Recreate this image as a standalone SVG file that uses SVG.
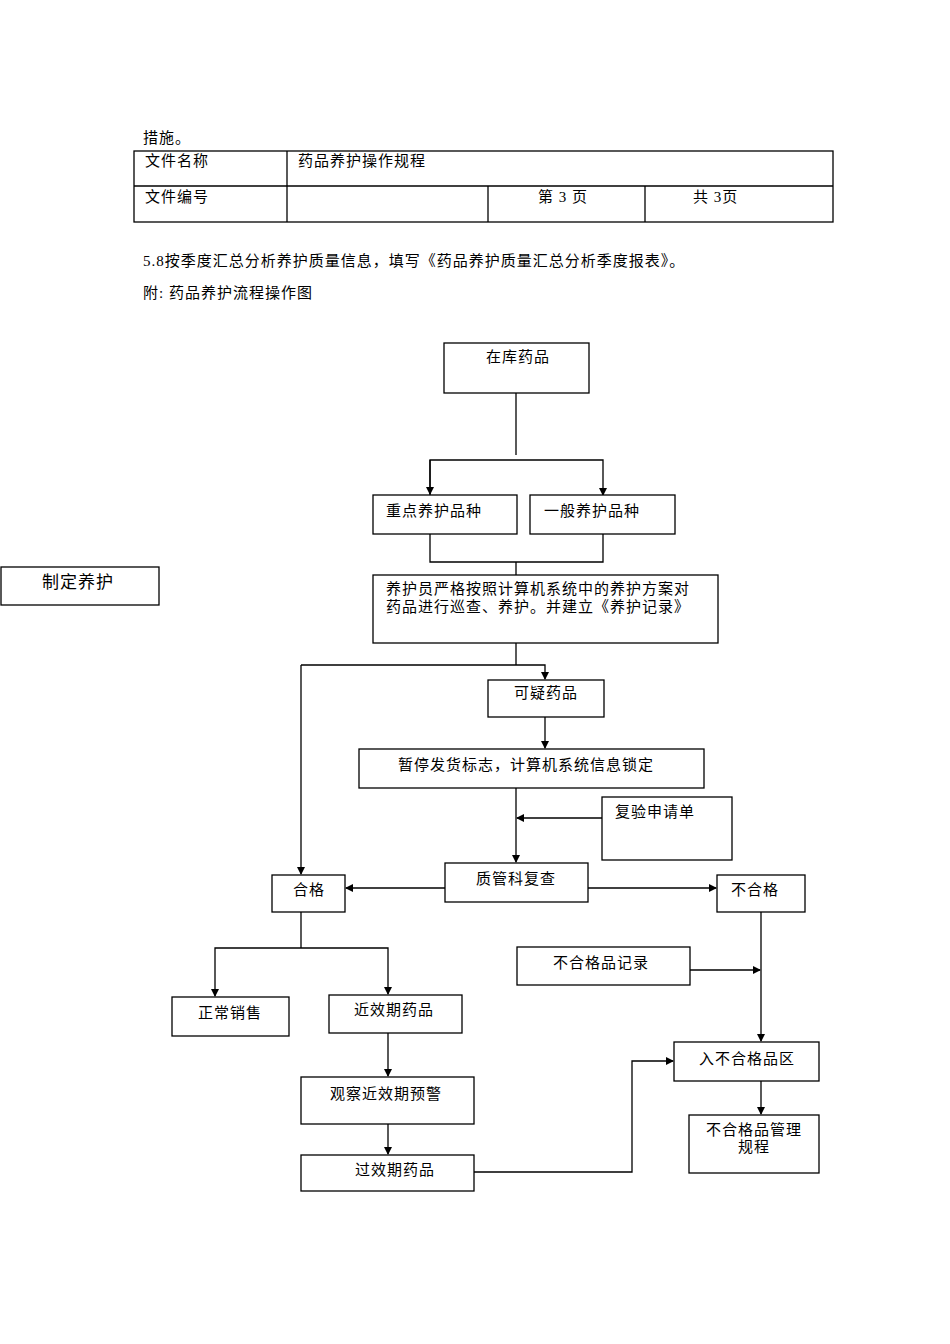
<svg xmlns="http://www.w3.org/2000/svg" width="950" height="1344" viewBox="0 0 950 1344">
<style>
text{font-family:"Liberation Serif","Noto Sans CJK SC",serif;font-size:15px;fill:#000;letter-spacing:1px}
.b{fill:#fff;stroke:#000;stroke-width:1.3}
.l{fill:none;stroke:#000;stroke-width:1.3}
.a{fill:none;stroke:#000;stroke-width:1.3;marker-end:url(#ar)}
</style>
<defs><marker id="ar" markerWidth="8" markerHeight="8" refX="7" refY="4" orient="auto" markerUnits="userSpaceOnUse"><path d="M0,0L8,4L0,8z" fill="#000"/></marker></defs>
<rect width="950" height="1344" fill="#fff"/>
<g id="header">
<text x="143" y="143">措施。</text>
<rect class="l" x="134" y="151" width="699" height="71"/>
<line class="l" x1="134" y1="186" x2="833" y2="186"/>
<line class="l" x1="287" y1="151" x2="287" y2="222"/>
<line class="l" x1="488" y1="186" x2="488" y2="222"/>
<line class="l" x1="645" y1="186" x2="645" y2="222"/>
<text x="145" y="166">文件名称</text>
<text x="298" y="166">药品养护操作规程</text>
<text x="145" y="202">文件编号</text>
<text x="538" y="202">第 3 页</text>
<text x="693" y="202">共   3页</text>
<text x="143" y="266">5.8按季度汇总分析养护质量信息，填写《药品养护质量汇总分析季度报表》。</text>
<text x="143" y="298">附: 药品养护流程操作图</text>
</g>
<g id="connectors">
<polyline class="l" points="516,393 516,455"/>
<polyline class="a" points="430,495 430,460 603,460 603,495"/>
<line class="a" x1="430" y1="460" x2="430" y2="494"/>
<polyline class="l" points="430,534 430,562 603,562 603,534"/>
<line class="l" x1="516" y1="562" x2="516" y2="575"/>
<polyline class="l" points="516,643 516,665"/>
<polyline class="a" points="301,665 545,665 545,679"/>
<polyline class="a" points="301,665 301,874"/>
<line class="a" x1="545" y1="717" x2="545" y2="748"/>
<line class="a" x1="516" y1="788" x2="516" y2="862"/>
<line class="a" x1="602" y1="818" x2="517" y2="818"/>
<line class="a" x1="445" y1="888" x2="346" y2="888"/>
<line class="a" x1="588" y1="888" x2="716" y2="888"/>
<polyline class="l" points="301,912 301,948"/>
<polyline class="a" points="301,948 215,948 215,996"/>
<polyline class="a" points="301,948 388,948 388,994"/>
<line class="a" x1="388" y1="1033" x2="388" y2="1076"/>
<line class="a" x1="388" y1="1124" x2="388" y2="1154"/>
<polyline class="a" points="474,1172 632,1172 632,1061 673,1061"/>
<line class="a" x1="690" y1="970" x2="760" y2="970"/>
<line class="a" x1="761" y1="912" x2="761" y2="1041"/>
<line class="a" x1="761" y1="1081" x2="761" y2="1114"/>
</g>
<g id="n1"><rect class="b" x="444" y="343" width="145" height="50"/><text x="486" y="362">在库药品</text></g>
<g id="n2"><rect class="b" x="373" y="495" width="144" height="39"/><text x="386" y="516">重点养护品种</text></g>
<g id="n3"><rect class="b" x="530" y="495" width="145" height="39"/><text x="544" y="516">一般养护品种</text></g>
<g id="n4"><rect class="b" x="1" y="567" width="158" height="38"/><text x="42" y="588" style="font-size:17px">制定养护</text></g>
<g id="n5"><rect class="b" x="373" y="575" width="345" height="68"/><text x="386" y="594">养护员严格按照计算机系统中的养护方案对</text><text x="386" y="612">药品进行巡查、养护。并建立《养护记录》</text></g>
<g id="n6"><rect class="b" x="488" y="680" width="116" height="37"/><text x="514" y="698">可疑药品</text></g>
<g id="n7"><rect class="b" x="359" y="749" width="345" height="39"/><text x="398" y="770">暂停发货标志，计算机系统信息锁定</text></g>
<g id="n8"><rect class="b" x="602" y="797" width="130" height="63"/><text x="615" y="817">复验申请单</text></g>
<g id="n9"><rect class="b" x="445" y="863" width="143" height="39"/><text x="476" y="884">质管科复查</text></g>
<g id="n10"><rect class="b" x="272" y="875" width="73" height="37"/><text x="293" y="895">合格</text></g>
<g id="n11"><rect class="b" x="717" y="875" width="88" height="37"/><text x="731" y="895">不合格</text></g>
<g id="n12"><rect class="b" x="517" y="947" width="173" height="38"/><text x="553" y="968">不合格品记录</text></g>
<g id="n13"><rect class="b" x="172" y="997" width="117" height="39"/><text x="198" y="1018">正常销售</text></g>
<g id="n14"><rect class="b" x="329" y="995" width="133" height="38"/><text x="354" y="1015">近效期药品</text></g>
<g id="n15"><rect class="b" x="674" y="1042" width="145" height="39"/><text x="699" y="1064">入不合格品区</text></g>
<g id="n16"><rect class="b" x="301" y="1077" width="173" height="47"/><text x="330" y="1099">观察近效期预警</text></g>
<g id="n17"><rect class="b" x="689" y="1115" width="130" height="58"/><text x="754" y="1135" text-anchor="middle">不合格品管理</text><text x="754" y="1152" text-anchor="middle">规程</text></g>
<g id="n18"><rect class="b" x="301" y="1155" width="173" height="36"/><text x="355" y="1175">过效期药品</text></g>
</svg>
